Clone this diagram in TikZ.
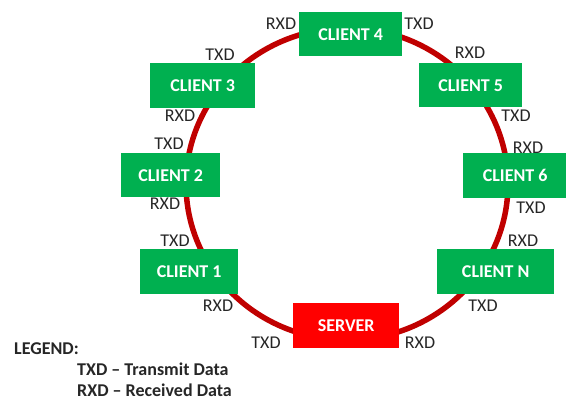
\documentclass[tikz,border=0pt]{standalone}
\usepackage{fontspec}
\setmainfont{Carlito}
\definecolor{ringred}{HTML}{C00000}
\definecolor{boxgreen}{HTML}{00B050}
\definecolor{serverred}{HTML}{FF0000}
\definecolor{txt}{HTML}{262626}
\begin{document}
\begin{tikzpicture}[x=1pt,y=-1pt,
  station/.style={fill=boxgreen, draw=none, text=white, font=\fontsize{18}{20}\selectfont\bfseries, inner sep=0pt, anchor=north west},
  port/.style={text=txt, font=\fontsize{18}{20}\selectfont, inner sep=0pt},
  legendtxt/.style={text=txt, font=\fontsize{18}{20}\selectfont\bfseries, inner sep=0pt, anchor=base west}]
\useasboundingbox (0,0) rectangle (566,401);
% the ring bus
\coordinate (ringc) at (347,184);
\draw[ringred, line width=5.5pt] (ringc) ellipse [x radius=161, y radius=156];
% stations on the ring
\node[station, minimum width=103pt, minimum height=44pt] (c4) at (299,12) {CLIENT 4};
\node[station, minimum width=105pt, minimum height=45pt] (c3) at (150,63) {CLIENT 3};
\node[station, minimum width=103pt, minimum height=44pt] (c5) at (419,63) {CLIENT 5};
\node[station, minimum width=99pt, minimum height=44pt] (c2) at (121,153) {CLIENT 2};
\node[station, minimum width=104pt, minimum height=45pt] (c6) at (463,153) {CLIENT 6};
\node[station, minimum width=98pt, minimum height=45pt] (c1) at (140,249) {CLIENT 1};
\node[station, minimum width=117pt, minimum height=45pt] (cn) at (437,249) {CLIENT N};
\node[station, fill=serverred, minimum width=106pt, minimum height=45pt] (srv) at (293,303) {SERVER};
% port labels
\node[port] (c4rx) at (281,24) {RXD};
\node[port] (c4tx) at (419,24) {TXD};
\node[port] (c3tx) at (220,55) {TXD};
\node[port] (c3rx) at (180,116) {RXD};
\node[port] (c2tx) at (169,144) {TXD};
\node[port] (c2rx) at (165,204) {RXD};
\node[port] (c1tx) at (175,241) {TXD};
\node[port] (c1rx) at (218,306) {RXD};
\node[port] (srvtx) at (266,343) {TXD};
\node[port] (srvrx) at (420,343) {RXD};
\node[port] (c5rx) at (470,53) {RXD};
\node[port] (c5tx) at (516,116) {TXD};
\node[port] (c6rx) at (528,148) {RXD};
\node[port] (c6tx) at (531,208) {TXD};
\node[port] (cnrx) at (523,241) {RXD};
\node[port] (cntx) at (483,306) {TXD};
% legend
\node[legendtxt] (lg) at (14,355) {LEGEND:};
\node[legendtxt] (lg1) at (77,376) {TXD -- Transmit Data};
\node[legendtxt] (lg2) at (77,397) {RXD -- Received Data};
\end{tikzpicture}
\end{document}
